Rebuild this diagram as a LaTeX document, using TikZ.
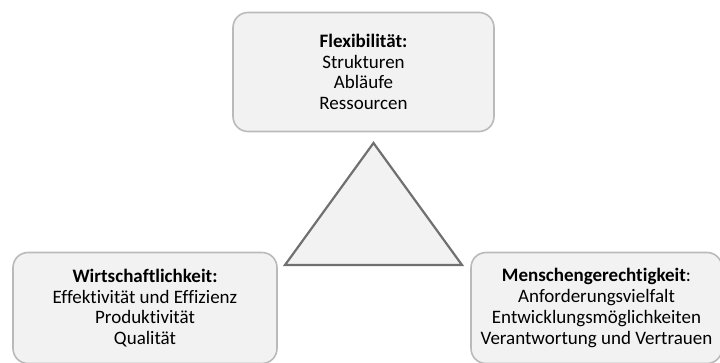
\documentclass[tikz,border=0pt]{standalone}
\usepackage{fontspec}
\setmainfont{Carlito}[RawFeature={-liga;-clig}]
\begin{document}
\begin{tikzpicture}[x=1pt,y=-1pt,
  pillar/.style={draw=black!27, line width=1.6pt, fill=black!5, rounded corners=15pt,
    align=center, inner sep=0pt, font=\fontsize{19}{20.8}\selectfont},
  core/.style={draw=black!56, line width=2.2pt, fill=black!5, line join=miter}]
  \useasboundingbox (0,0) rectangle (720,363);
  % three pillars
  \node[pillar, minimum width=261pt, minimum height=119pt] (flex) at (363.5,72)
    {\textbf{Flexibilität:}\\Strukturen\\Abläufe\\Ressourcen};
  \node[pillar, minimum width=264pt, minimum height=111pt] (wirt) at (145,308)
    {\textbf{Wirtschaftlichkeit:}\\Effektivität und Effizienz\\Produktivität\\Qualität};
  \node[pillar, minimum width=251pt, minimum height=111pt] (mensch) at (596.5,308)
    {\textbf{Menschengerechtigkeit}:\\Anforderungsvielfalt\\Entwicklungsmöglichkeiten\\Verantwortung und Vertrauen};
  % central triangle
  \coordinate (apex) at (373.5,143);
  \coordinate (bl) at (285,265);
  \coordinate (br) at (462,265);
  \draw[core] (apex) -- (br) -- (bl) -- cycle;
\end{tikzpicture}
\end{document}
